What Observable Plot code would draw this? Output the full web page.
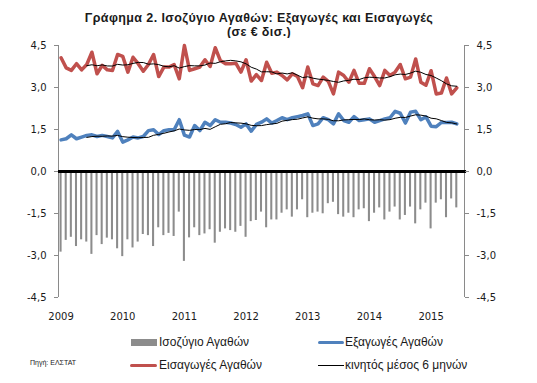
<!DOCTYPE html>
<html>
<head>
<meta charset="utf-8">
<script src="https://cdn.jsdelivr.net/npm/d3@7"></script>
<script src="https://cdn.jsdelivr.net/npm/@observablehq/plot@0.6"></script>
<style>
  html, body { margin: 0; padding: 0; background: #fff; }
  body { width: 537px; height: 383px; position: relative; overflow: hidden; font-family: "Liberation Sans", Arial, sans-serif; color: #1a1a1a; }
  .abs { position: absolute; white-space: nowrap; }
  #title { left: 0; top: 11px; width: 518px; text-align: center; font-weight: bold; font-size: 12.5px; letter-spacing: 0.4px; line-height: 14px; }
  #chart { position: absolute; left: 0; top: 38px; }
  .lg { font-size: 12px; line-height: 14px; }
</style>
</head>
<body>
<div id="title" class="abs">Γράφημα 2. Ισοζύγιο Αγαθών: Εξαγωγές και Εισαγωγές<br>(σε € δισ.)</div>
<div id="chart"></div>

<div class="abs" style="left:131px;top:339px;width:26px;height:7px;background:#8c8c8c"></div>
<div class="abs lg" style="left:159px;top:335px">Ισοζύγιο Αγαθών</div>
<div class="abs" style="left:318px;top:341px;width:26px;height:3px;background:#4F81BD;border-radius:2px"></div>
<div class="abs lg" style="left:345px;top:335px">Εξαγωγές Αγαθών</div>
<div class="abs" style="left:130px;top:364px;width:27px;height:3px;background:#C0504D;border-radius:2px"></div>
<div class="abs lg" style="left:159px;top:358px">Εισαγωγές Αγαθών</div>
<div class="abs" style="left:318px;top:365px;width:26px;height:1px;background:#000"></div>
<div class="abs lg" style="left:345px;top:358px">κινητός μέσος 6 μηνών</div>
<div class="abs" style="left:30px;top:359px;font-size:7px;line-height:8px">Πηγή: ΕΛΣΤΑΤ</div>

<script>
// Monthly values, Jan 2009 .. Jun 2015 (€ bn)
const yearLabels = ["2009", "2010", "2011", "2012", "2013", "2014", "2015"];
const yTickValues = [-4.5, -3.0, -1.5, 0, 1.5, 3.0, 4.5];

const importsBn = [
  4.06, 3.70, 3.61, 3.85, 3.63, 3.82, 4.26, 3.49, 3.79, 3.63, 3.61, 4.18,
  4.11, 3.55, 4.08, 3.85, 3.58, 3.82, 4.18, 3.39, 3.73, 3.73, 3.82, 3.31,
  4.50, 3.61, 3.67, 3.73, 3.99, 3.75, 4.42, 3.96, 3.85, 3.85, 3.87, 3.55,
  3.99, 3.23, 3.46, 3.25, 3.90, 3.51, 3.55, 3.43, 3.27, 3.49, 3.39, 2.99,
  3.73, 3.13, 3.07, 3.37, 3.22, 2.77, 3.55, 3.43, 3.19, 3.61, 3.15, 3.15,
  3.67, 3.39, 3.07, 3.61, 3.43, 3.55, 3.82, 3.31, 3.37, 4.02, 3.19, 3.08,
  3.60, 2.77, 2.80, 3.34, 2.77, 2.99
];
const exportsBn = [
  1.13, 1.17, 1.31, 1.17, 1.23, 1.29, 1.31, 1.25, 1.29, 1.25, 1.20, 1.43,
  1.05, 1.13, 1.23, 1.20, 1.25, 1.46, 1.49, 1.32, 1.46, 1.49, 1.49, 1.85,
  1.30, 1.23, 1.64, 1.46, 1.76, 1.64, 1.85, 1.76, 1.76, 1.73, 1.68, 1.58,
  1.70, 1.44, 1.68, 1.76, 1.88, 1.73, 1.82, 1.92, 1.85, 1.92, 1.96, 2.00,
  2.06, 1.64, 1.70, 1.92, 1.85, 1.70, 2.06, 1.82, 1.76, 1.96, 1.82, 1.85,
  1.88, 1.76, 1.82, 1.88, 1.92, 2.15, 2.08, 1.73, 2.12, 2.15, 1.85, 1.95,
  1.62, 1.60, 1.75, 1.75, 1.76, 1.70
];
const balanceBn = [
  -2.88, -2.46, -2.35, -2.68, -2.44, -2.52, -2.96, -2.29, -2.61, -2.38, -2.44, -2.76,
  -3.04, -2.44, -2.73, -2.52, -2.25, -2.29, -2.68, -2.01, -2.29, -2.21, -2.32, -1.45,
  -3.21, -2.37, -2.01, -2.29, -2.23, -2.08, -2.56, -2.17, -2.05, -2.11, -2.17, -1.96,
  -2.35, -1.79, -1.75, -1.45, -2.01, -1.73, -1.73, -1.49, -1.37, -1.63, -1.37, -1.01,
  -1.65, -1.49, -1.45, -1.51, -1.15, -1.10, -1.54, -1.63, -1.49, -1.65, -1.37, -1.33,
  -1.79, -1.49, -1.30, -1.73, -1.45, -1.27, -1.73, -1.57, -1.27, -1.87, -1.37, -1.13,
  -2.05, -1.13, -1.01, -1.65, -0.98, -1.30
];

const data = importsBn.map((v, i) => ({i, imp: v, exp: exportsBn[i], bal: balanceBn[i]}));
const yearIdx = yearLabels.map((_, k) => k * 12);
const fmt = d => d.toFixed(1).replace(".", ",");

const axisCommon = {ticks: yTickValues, tickFormat: fmt, tickSize: 4, tickPadding: 8, stroke: "#8a8a8a", fill: "#1a1a1a", label: null};

const chart = Plot.plot({
  width: 537,
  height: 284,
  marginTop: 7,
  marginBottom: 25,
  marginLeft: 58,
  marginRight: 73,
  x: {type: "linear", domain: [-0.5, 78.5]},
  y: {domain: [-4.5, 4.5]},
  style: {fontFamily: "DejaVu Sans", fontSize: "10px", background: "white", color: "#1a1a1a"},
  marks: [
    Plot.rect(data, {x1: d => d.i - 0.2, x2: d => d.i + 0.2, y1: 0, y2: "bal", fill: "#8c8c8c"}),
    Plot.ruleX([-0.5, 78.5], {y1: -4.5, y2: 4.5, stroke: "#8a8a8a"}),
    Plot.ruleY([0], {x1: -0.5, x2: 78.9, stroke: "#000", strokeWidth: 3}),
    Plot.line(data, {x: "i", y: "imp", stroke: "#C0504D", strokeWidth: 3.5}),
    Plot.line(data, {x: "i", y: "exp", stroke: "#4F81BD", strokeWidth: 3.5}),
    Plot.line(data, Plot.windowY({k: 6, anchor: "end", strict: true}, {x: "i", y: "imp", stroke: "#000", strokeWidth: 1})),
    Plot.line(data, Plot.windowY({k: 6, anchor: "end", strict: true}, {x: "i", y: "exp", stroke: "#000", strokeWidth: 1})),
    Plot.axisY({anchor: "left", ...axisCommon}),
    Plot.axisY({anchor: "right", ...axisCommon}),
    Plot.axisX({ticks: yearIdx, tickFormat: d => yearLabels[d / 12], tickSize: 0, tickPadding: 15, fill: "#1a1a1a", label: null})
  ]
});
document.getElementById("chart").appendChild(chart);
</script>
</body>
</html>
